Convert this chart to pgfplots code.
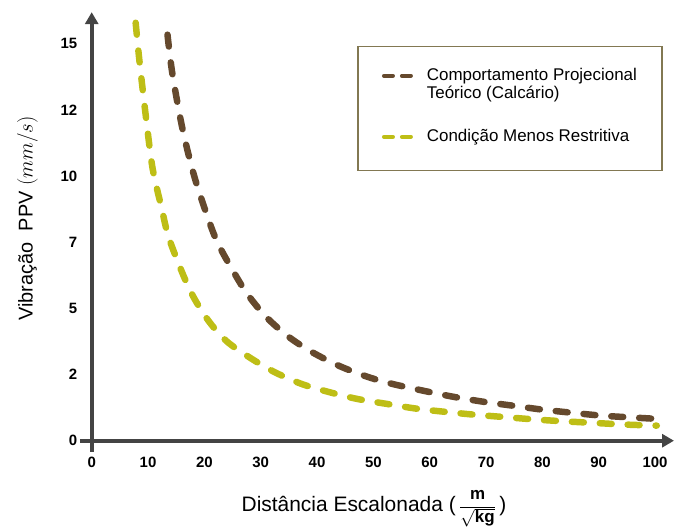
\documentclass[border=0pt]{standalone}
\usepackage{pgfplots}
\pgfplotsset{compat=1.18}
\usetikzlibrary{arrows.meta}
\usepackage{fontspec}
\setmainfont{Liberation Sans}

\definecolor{axisgray}{RGB}{68,68,68}
\definecolor{calcbrown}{RGB}{101,73,45}
\definecolor{olivey}{RGB}{190,190,22}
\definecolor{legframe}{RGB}{130,120,82}

% key sample: two short dashes
\pgfplotsset{
  dash key/.style={legend image code/.code={%
    \draw[##1, line width=4pt, dash pattern=on 9pt off 9pt, line cap=round]
      (0pt,5pt) -- (27pt,5pt);}},
  % same sample, with extra room above and below its row
  low dash key/.style={legend image code/.code={%
    \path (0pt,-5.6pt) (0pt,36.5pt);
    \draw[##1, line width=4pt, dash pattern=on 9pt off 9pt, line cap=round]
      (0pt,5pt) -- (27pt,5pt);}},
}

% theoretical projection curve (limestone)
\pgfplotstableread{
x     y
13.45 15.35
14.3  13.9
16.1  11.8
18.2  10.0
20.5  8.5
22.3  7.5
25.0  6.45
27.6  5.55
31.0  4.67
35.0  3.92
39.1  3.35
43.9  2.83
48.9  2.42
53.3  2.15
59.3  1.87
64.2  1.66
69.6  1.47
74.9  1.32
79.8  1.18
85.1  1.06
90.4  0.95
95.8  0.88
100.8 0.82
}\calcario

% least restrictive condition
\pgfplotstableread{
x     y
7.8   15.8
8.5   14.3
9.7   12.1
10.8  10.3
12.4  8.8
13.8  7.6
17.3  5.75
20.5  4.6
23.9  3.77
28.0  3.15
32.4  2.6
37.2  2.15
42.1  1.84
47.1  1.58
52.7  1.38
57.7  1.21
62.8  1.09
68.1  0.98
73.5  0.89
78.8  0.80
84.1  0.73
89.4  0.67
94.7  0.61
100.3 0.57
}\restritiva

\begin{document}
\begin{tikzpicture}
\begin{axis}[
  scale only axis,
  width=595.9pt, height=440.7pt,
  xmin=-2.1, xmax=103.36, ymin=-0.41, ymax=16.2,
  axis lines=middle,
  axis line style={line width=4pt, axisgray, -{Triangle[length=12pt,width=13pt]}},
  hide obscured x ticks=false, hide obscured y ticks=false,
  major tick length=0pt,
  xtick={0,10,...,100},
  ytick={0,2.5,5,7.5,10,12.5,15},
  yticklabels={0,2,5,7,10,12,15},
  /pgf/number format/assume math mode=true,
  ticklabel style={font=\fontsize{15}{17}\selectfont\bfseries, text=black},
  xticklabel style={anchor=north, yshift=-13pt},
  yticklabel style={anchor=east, xshift=-11pt},
  clip=false,
  xlabel={Distância Escalonada (\,{\fontsize{17}{20}\selectfont$\displaystyle\frac{\mathbf{m}}{\sqrt{\mathbf{kg}}}$}\,)},
  ylabel={Vibração\ \ PPV $(mm/s)$},
  every axis x label/.style={at={(axis cs:50.1,-2.56)}, anchor=center,
    font=\fontsize{21}{24}\selectfont},
  every axis y label/.style={at={(axis cs:-11.4,8.4)}, anchor=center, rotate=90,
    font=\fontsize{20}{24}\selectfont},
  legend style={at={(axis cs:47.1,14.93)}, anchor=north west,
    draw=legframe, line width=1.5pt, fill=white,
    inner xsep=23pt, inner ysep=20pt, row sep=0pt, column sep=12pt,
    font=\fontsize{17}{23}\selectfont,
    cells={anchor=base west, inner sep=0pt}},
  dash key,
]
\addplot[calcbrown, line width=6.5pt, line cap=round,
  dash pattern=on 12pt off 16pt, smooth] table {\calcario};
\addlegendentry{Comportamento Projecional}
\addlegendimage{empty legend}
\addlegendentry{Teórico (Calcário)}

\addplot[olivey, line width=6.5pt, line cap=round,
  dash pattern=on 12pt off 16pt, smooth, low dash key] table {\restritiva};
\addlegendentry{Condição Menos Restritiva}

% page extent
\path (axis cs:-16.28,16.66) (axis cs:103.36,-3.355);
\end{axis}
\end{tikzpicture}
\end{document}
